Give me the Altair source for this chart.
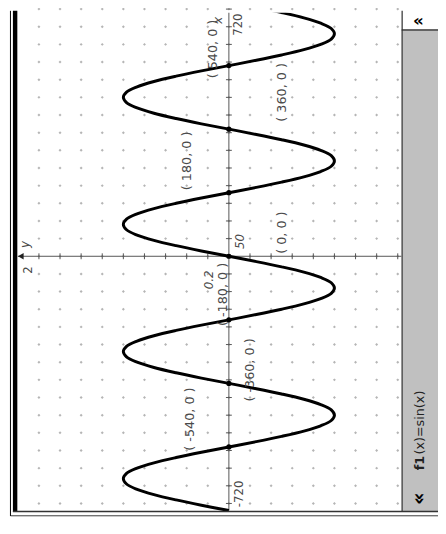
import altair as alt
import pandas as pd

# ---- data ----
angles = list(range(-720, 721, 15))
sin_vals = [0, .26, .5, .71, .87, .97, 1, .97, .87, .71, .5, .26,
            0, -.26, -.5, -.71, -.87, -.97, -1, -.97, -.87, -.71, -.5, -.26,
            0, .26, .5, .71, .87, .97, 1, .97, .87, .71, .5, .26,
            0, -.26, -.5, -.71, -.87, -.97, -1, -.97, -.87, -.71, -.5, -.26,
            0, .26, .5, .71, .87, .97, 1, .97, .87, .71, .5, .26,
            0, -.26, -.5, -.71, -.87, -.97, -1, -.97, -.87, -.71, -.5, -.26,
            0, .26, .5, .71, .87, .97, 1, .97, .87, .71, .5, .26,
            0, -.26, -.5, -.71, -.87, -.97, -1, -.97, -.87, -.71, -.5, -.26,
            0]

zero_a = [-540, -360, -180, 0, 180, 360, 540]
zero_v = [0, 0, 0, 0, 0, 0, 0]

point_labels = ["( 540, 0 )", "( 360, 0 )", "( 180, 0 )", "( 0, 0 )",
                "( -180, 0 )", "( -360, 0 )", "( -540, 0 )"]
label_a = [587, 464, 270, 67, -108, -322, -461]
label_v = [0.15, -0.50, 0.40, -0.50, 0.056, -0.205, 0.372]

axis_texts = ["720", "-720", "2"]
axis_text_a = [656, -673, -39]
axis_text_v = [-0.083, -0.093, 1.907]
italic_texts = ["50", "0.2", "y", "x"]
italic_text_a = [42, -67, 33, 668]
italic_text_v = [-0.11, 0.186, 1.935, 0.10]

grid_v = [-1.6, -1.4, -1.2, -1.0, -0.8, -0.6, -0.4, -0.2, 0.0,
          0.2, 0.4, 0.6, 0.8, 1.0, 1.2, 1.4, 1.6, 1.8]
grid_a = list(range(-700, 701, 50))

x_axis_range = [-720, 720]      # angle axis (drawn vertically)
y_axis_range = [2.0, -1.637]    # value axis (drawn horizontally)

# ---- geometry of the picture ----
W, H = 438, 526
# value v -> px = 225 - 107.5 v ; angle a -> py = 248 - 0.3597 a
xs = alt.Scale(domain=[(225 - W) / 107.5, 225 / 107.5], reverse=True, nice=False, zero=False)
ys = alt.Scale(domain=[(248 - H) / 0.3597, 248 / 0.3597], nice=False, zero=False)

def X(f):
    return alt.X(f, type="quantitative", scale=xs, axis=None)

def Y(f):
    return alt.Y(f, type="quantitative", scale=ys, axis=None)

one = pd.DataFrame({"k": [0]})
FONT = "DejaVu Sans"
TXT = "#4a4a4a"
AX = "#555555"

curve_df = pd.DataFrame({"a": angles, "v": sin_vals})
grid_df = pd.DataFrame([(v, a) for v in grid_v for a in grid_a], columns=["v", "a"])
zero_df = pd.DataFrame({"a": zero_a, "v": zero_v})
lab_df = pd.DataFrame({"a": label_a, "v": label_v, "t": point_labels})
axt_df = pd.DataFrame({"a": axis_text_a, "v": axis_text_v, "t": axis_texts})
ita_df = pd.DataFrame({"a": italic_text_a, "v": italic_text_v, "t": italic_texts})
vt_df = pd.DataFrame({"a": [a for a in grid_a if a != 0], "v": 0.0})
ht_df = pd.DataFrame({"v": [v for v in grid_v if v != 0], "a": 0.0})
vax_df = pd.DataFrame({"v": [0.0], "a": [x_axis_range[0]], "a2": [x_axis_range[1]]})
hax_df = pd.DataFrame({"a": [0.0], "v": [y_axis_range[0]], "v2": [y_axis_range[1]]})

layers = []

# grid dots
layers.append(alt.Chart(grid_df).mark_point(shape="diamond", filled=True, size=9,
                                             color="#b5b5b5", opacity=1)
              .encode(x=X("v"), y=Y("a")))

# axes
layers.append(alt.Chart(vax_df).mark_rule(color=AX, strokeWidth=1, clip=True)
              .encode(x=X("v"), y=Y("a"), y2="a2"))
layers.append(alt.Chart(hax_df).mark_rule(color=AX, strokeWidth=1)
              .encode(x=X("v"), x2="v2", y=Y("a")))
layers.append(alt.Chart(vt_df).mark_rule(color=AX, strokeWidth=1, xOffset=-3, x2Offset=3)
              .encode(x=X("v"), x2="v", y=Y("a")))
layers.append(alt.Chart(ht_df).mark_rule(color=AX, strokeWidth=1, yOffset=-3, y2Offset=3)
              .encode(x=X("v"), y=Y("a"), y2="a"))
layers.append(alt.Chart(hax_df).mark_point(shape="triangle-left", filled=True, size=45,
                                           color="#222222", opacity=1, xOffset=3)
              .encode(x=X("v"), y=Y("a")))

# curve
layers.append(alt.Chart(curve_df).mark_line(color="black", strokeWidth=3,
                                            interpolate="catmull-rom", clip=True)
              .encode(x=X("v"), y=Y("a"), order="a:Q"))

# zero points
layers.append(alt.Chart(zero_df).mark_circle(color="black", size=28, opacity=1)
              .encode(x=X("v"), y=Y("a")))

# labels
layers.append(alt.Chart(lab_df).mark_text(angle=270, font=FONT, fontSize=13, color=TXT,
                                          align="center", baseline="middle")
              .encode(x=X("v"), y=Y("a"), text="t:N"))
layers.append(alt.Chart(axt_df).mark_text(angle=270, font=FONT, fontSize=12, color=TXT,
                                          align="center", baseline="middle")
              .encode(x=X("v"), y=Y("a"), text="t:N"))
layers.append(alt.Chart(ita_df).mark_text(angle=270, font=FONT, fontSize=12, color=TXT,
                                          fontStyle="italic", align="center", baseline="middle")
              .encode(x=X("v"), y=Y("a"), text="t:N"))

# frame decorations (pixel positions)
def rect(x, x2, y, y2, fill):
    return alt.Chart(one).mark_rect(fill=fill).encode(
        x=alt.value(x), x2=alt.value(x2), y=alt.value(y), y2=alt.value(y2))

def hline(x, x2, y, color, sw):
    return alt.Chart(one).mark_rule(color=color, strokeWidth=sw).encode(
        x=alt.value(x), x2=alt.value(x2), y=alt.value(y))

def vline(x, y, y2, color, sw):
    return alt.Chart(one).mark_rule(color=color, strokeWidth=sw).encode(
        x=alt.value(x), y=alt.value(y), y2=alt.value(y2))

layers.append(rect(401, W, 18, 508, "#c0c0c0"))
layers.append(rect(401, W, -2, 18, "#ffffff"))
layers.append(vline(401.5, -2, 508, "#555555", 1.5))
layers.append(hline(401, W, 17.5, "#333333", 1.5))
layers.append(rect(0, 9, -2, 508.5, "#ffffff"))
layers.append(rect(5, 9.5, -2, 508.5, "#000000"))
layers.append(vline(2.5, -2, 512.5, "#000000", 1))
layers.append(hline(5, W, 508, "#333333", 1.5))
layers.append(hline(2.5, W, 512.5, "#000000", 1))
layers.append(rect(0, W, 513, H, "#ffffff"))

layers.append(alt.Chart(one).mark_text(font=FONT, fontSize=17, fontWeight="bold", color="black",
                                       align="center", baseline="middle")
              .encode(x=alt.value(418), y=alt.value(8), text=alt.value("«")))
layers.append(alt.Chart(one).mark_text(font=FONT, fontSize=20, fontWeight="bold", color="black",
                                       align="center", baseline="middle", angle=270)
              .encode(x=alt.value(419), y=alt.value(495), text=alt.value("«")))
layers.append(alt.Chart(one).mark_text(font=FONT, fontSize=13, fontWeight="bold", color="#222222",
                                       align="left", baseline="middle", angle=270)
              .encode(x=alt.value(420), y=alt.value(466), text=alt.value("f1")))
layers.append(alt.Chart(one).mark_text(font=FONT, fontSize=13, color="#222222",
                                       align="left", baseline="middle", angle=270)
              .encode(x=alt.value(420), y=alt.value(450), text=alt.value("(x)=sin(x)")))

chart = alt.layer(*layers).properties(
    width=W, height=H, padding=0, autosize="none", background="white"
).configure_view(stroke=None)

chart.save("out.html", embed_options={"renderer": "svg", "actions": False})
